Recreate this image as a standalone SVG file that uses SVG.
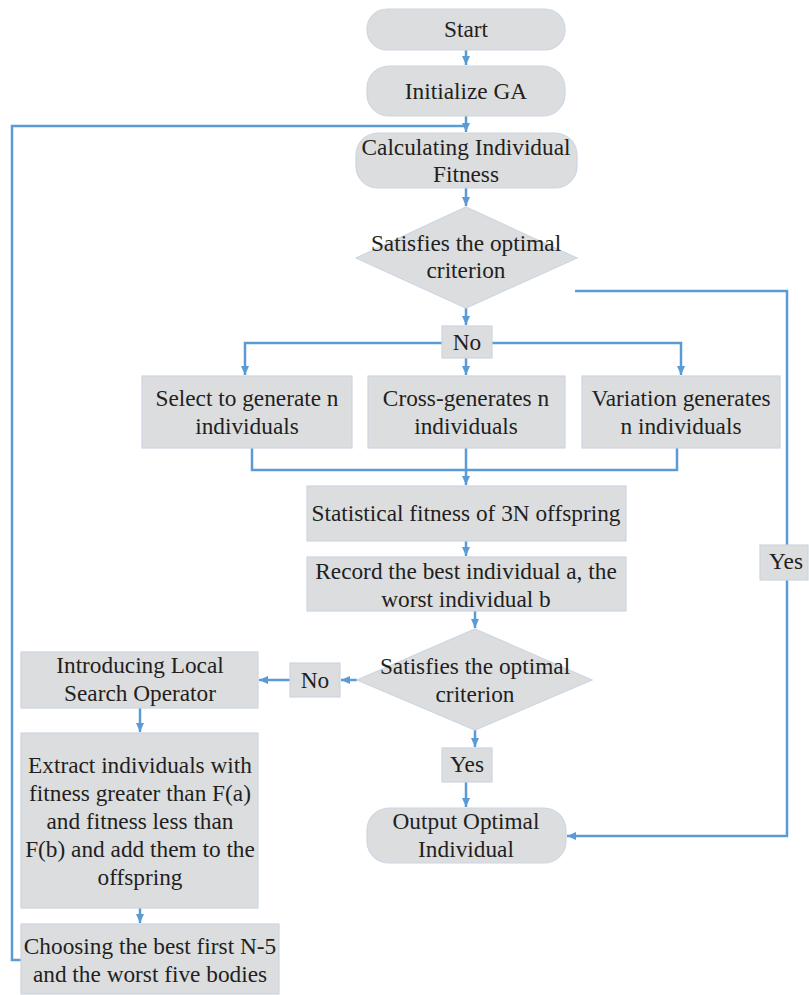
<svg xmlns="http://www.w3.org/2000/svg" width="809" height="995" viewBox="0 0 809 995">
<style>
.n{fill:#dcdddf;stroke:#cdd6e2;stroke-width:1.2}
.t{font-family:"Liberation Serif","Times New Roman",serif;font-size:23.3px;fill:#231f20;text-anchor:middle}
.c{fill:none;stroke:#5b9bd5;stroke-width:2.5}
</style>
<defs>
<marker id="a" markerUnits="userSpaceOnUse" markerWidth="10" markerHeight="10" refX="9" refY="5" orient="auto">
<path d="M0,1 L9,5 L0,9 Z" fill="#5b9bd5"/>
</marker>
</defs>
<rect width="809" height="995" fill="#ffffff"/>
<g id="connectors">
<path class="c" d="M466,50 V65" marker-end="url(#a)"/>
<path class="c" d="M466,116 V132" marker-end="url(#a)"/>
<path class="c" d="M21,960 H12 V126 H466"/>
<path class="c" d="M466,188 V206" marker-end="url(#a)"/>
<path class="c" d="M466,308 V325" marker-end="url(#a)"/>
<path class="c" d="M442,343 H245 V375" marker-end="url(#a)"/>
<path class="c" d="M492,343 H681 V375" marker-end="url(#a)"/>
<path class="c" d="M466,358 V375" marker-end="url(#a)"/>
<path class="c" d="M252,448 V470 H677 V448"/>
<path class="c" d="M466,448 V485" marker-end="url(#a)"/>
<path class="c" d="M466,541 V556" marker-end="url(#a)"/>
<path class="c" d="M475,611 V628" marker-end="url(#a)"/>
<path class="c" d="M475,730 V747" marker-end="url(#a)"/>
<path class="c" d="M466,782 V807" marker-end="url(#a)"/>
<path class="c" d="M357,680 H341" marker-end="url(#a)"/>
<path class="c" d="M290,680 H259" marker-end="url(#a)"/>
<path class="c" d="M140,708 V732" marker-end="url(#a)"/>
<path class="c" d="M140,908 V923" marker-end="url(#a)"/>
<path class="c" d="M575,291 H787 V836 H567" marker-end="url(#a)"/>
</g>
<g id="start"><rect class="n" x="367" y="9" width="198" height="41" rx="20"/><text class="t" x="466" y="37">Start</text></g>
<g id="init"><rect class="n" x="367" y="66" width="198" height="50" rx="22"/><text class="t" x="466" y="99">Initialize GA</text></g>
<g id="calc"><rect class="n" x="356" y="133" width="221" height="55" rx="22"/><text class="t" x="466" y="155">Calculating Individual</text><text class="t" x="466" y="182">Fitness</text></g>
<g id="dec1"><polygon class="n" points="466,207 577,258 466,308 356,258"/><text class="t" x="466" y="251">Satisfies the optimal</text><text class="t" x="466" y="278">criterion</text></g>
<g id="no1"><rect class="n" x="442" y="326" width="50" height="32"/><text class="t" x="467" y="350">No</text></g>
<g id="select"><rect class="n" x="142" y="376" width="210" height="72"/><text class="t" x="247" y="406">Select to generate n</text><text class="t" x="247" y="434">individuals</text></g>
<g id="cross"><rect class="n" x="368" y="376" width="197" height="72"/><text class="t" x="466" y="406">Cross-generates n</text><text class="t" x="466" y="434">individuals</text></g>
<g id="variation"><rect class="n" x="582" y="376" width="198" height="72"/><text class="t" x="681" y="406">Variation generates</text><text class="t" x="681" y="434">n individuals</text></g>
<g id="stat"><rect class="n" x="307" y="486" width="319" height="55"/><text class="t" x="466" y="521">Statistical fitness of 3N offspring</text></g>
<g id="record"><rect class="n" x="307" y="557" width="319" height="54"/><text class="t" x="466" y="579">Record the best individual a, the</text><text class="t" x="466" y="607">worst individual b</text></g>
<g id="dec2"><polygon class="n" points="475,629 592,680 475,730 357,680"/><text class="t" x="475" y="674">Satisfies the optimal</text><text class="t" x="475" y="702">criterion</text></g>
<g id="no2"><rect class="n" x="290" y="663" width="50" height="34"/><text class="t" x="315" y="688">No</text></g>
<g id="yes2"><rect class="n" x="442" y="748" width="50" height="34"/><text class="t" x="467" y="772">Yes</text></g>
<g id="output"><rect class="n" x="367" y="808" width="199" height="55" rx="22"/><text class="t" x="466" y="829">Output Optimal</text><text class="t" x="466" y="857">Individual</text></g>
<g id="yes1"><rect class="n" x="760" y="545" width="48" height="35"/><text class="t" x="786" y="569">Yes</text></g>
<g id="intro"><rect class="n" x="21" y="652" width="237" height="56"/><text class="t" x="140" y="673">Introducing Local</text><text class="t" x="140" y="701">Search Operator</text></g>
<g id="extract"><rect class="n" x="21" y="733" width="237" height="175"/><text class="t" x="140" y="773">Extract individuals with</text><text class="t" x="140" y="801">fitness greater than F(a)</text><text class="t" x="140" y="829">and fitness less than</text><text class="t" x="140" y="857">F(b) and add them to the</text><text class="t" x="140" y="885">offspring</text></g>
<g id="choose"><rect class="n" x="21" y="924" width="258" height="70"/><text class="t" x="150" y="954">Choosing the best first N-5</text><text class="t" x="150" y="982">and the worst five bodies</text></g>
</svg>
